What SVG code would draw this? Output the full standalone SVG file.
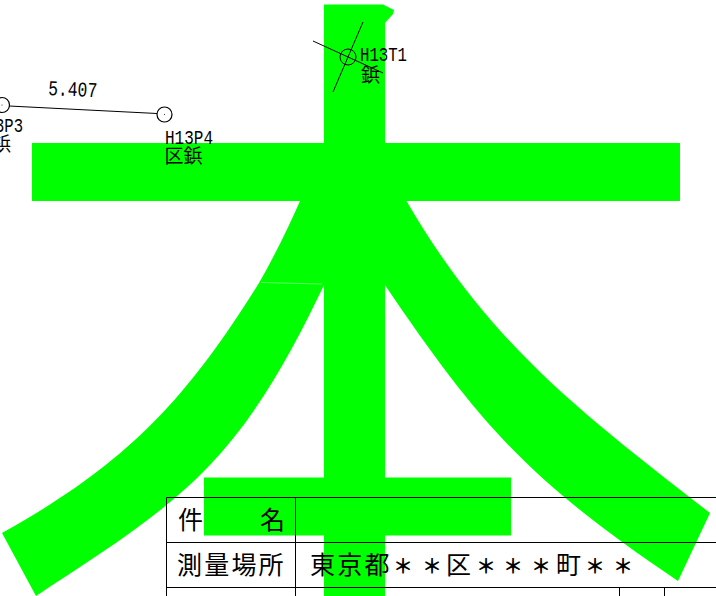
<svg xmlns="http://www.w3.org/2000/svg" width="716" height="596" viewBox="0 0 716 596">
<style>
.g{fill:#00ff00;stroke:none}
.l{stroke:#000;stroke-width:1;fill:none}
.c{stroke:#000;stroke-width:1.2;fill:#fff}
.h{fill:none}
.d{fill:#000}
.a{font-family:"Liberation Mono",monospace;font-size:21px;fill:#000}
.j{font-family:"Noto Sans CJK JP",sans-serif;font-size:19px;fill:#000}
.t{font-family:"Noto Sans CJK JP",sans-serif;font-size:25px;fill:#000}
.s{font-size:20px;font-weight:700}
</style>
<rect width="716" height="596" fill="#fff"/>
<g id="glyph">
<path class="g" d="M324 4.500H383L394 10L393 14L385 23V143H680V201H406.500C489 343 580 412 710 513L678 581C533 483 483 430 385 285V596H324V285C293 350 258 415 208 467C158 519 96 556 36 596L2 533C124.500 465 185 402 259 283C275 255 288 228 300 201H32V143H324Z"/>
<path d="M261 282.500L322 284" stroke="#9dff9d" stroke-width="0.6" fill="none"/>
<rect class="g" x="204" y="477.500" width="307" height="58"/>
</g>
<g id="table">
<path class="l" d="M166.500 497.500H716M166.500 497.500V596M295.500 497.500V596M166 542.500H716M166 587.500H716M619.500 588V596M664.500 588V596"/>
<text class="t" x="178" y="529">件</text>
<text class="t" x="260" y="529">名</text>
<text class="t" x="177" y="574" letter-spacing="2.200">測量場所</text>
<text class="t" x="310" y="574" letter-spacing="2.200">東京都<tspan class="s" x="393 422">＊＊</tspan><tspan x="446">区</tspan><tspan class="s" x="476 503 531">＊＊＊</tspan><tspan x="556">町</tspan><tspan class="s" x="585 613">＊＊</tspan></text>
</g>
<g id="connectors">
<path class="l" d="M9 106L157 113.500"/>
</g>
<g id="H13T1">
<circle class="h" cx="348" cy="57" r="8" stroke="#000" stroke-width="1"/>
<path class="l" d="M313 41L383 73M363 22L333 92"/>
<text class="a" x="360" y="61" textLength="47" lengthAdjust="spacingAndGlyphs">H13T1</text>
<text class="j" x="361" y="82">鋲</text>
</g>
<g id="H13P3">
<circle class="c" cx="2" cy="105" r="7.500"/>
<circle class="d" cx="2" cy="105" r="0.500"/>
<text class="a" x="-5" y="132" textLength="28" lengthAdjust="spacingAndGlyphs">3P3</text>
<text class="j" x="-8" y="151">鋲</text>
</g>
<g id="H13P4">
<circle class="c" cx="164.500" cy="114.500" r="7.500"/>
<circle class="d" cx="164.500" cy="114.500" r="0.500"/>
<text class="a" x="165" y="144" textLength="48" lengthAdjust="spacingAndGlyphs">H13P4</text>
<text class="j" x="164.500" y="163">区鋲</text>
</g>
<text class="a" x="48" y="95" textLength="49" lengthAdjust="spacingAndGlyphs" transform="rotate(2.500 48 95)">5.407</text>
</svg>
